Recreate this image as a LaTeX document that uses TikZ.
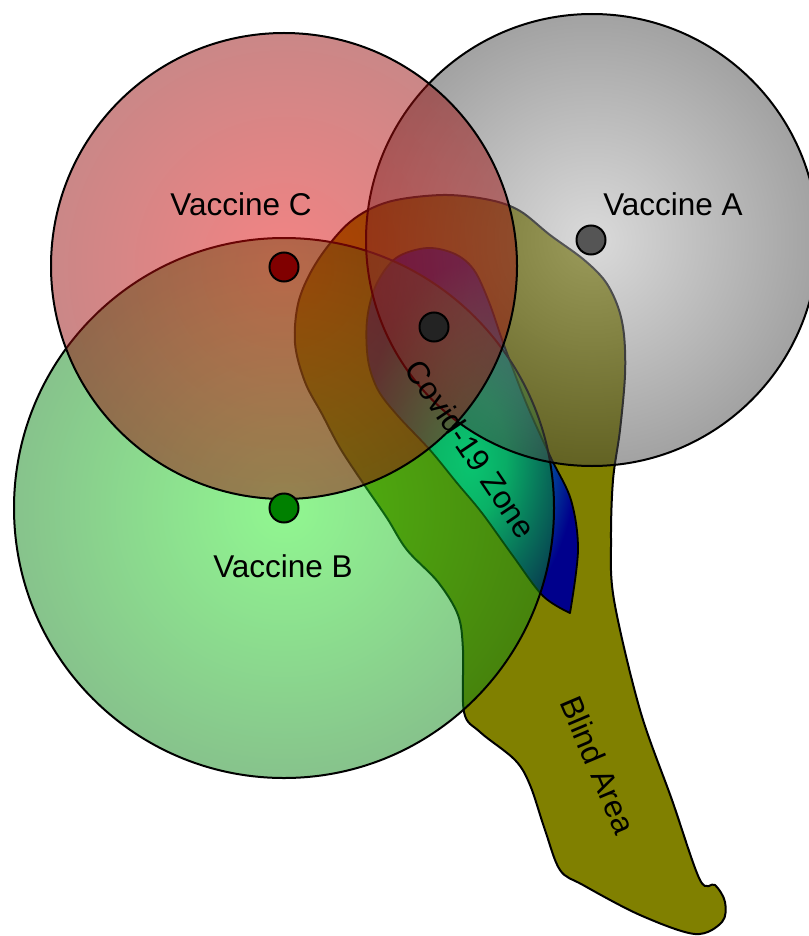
\documentclass[tikz,border=0pt]{standalone}
\usepackage{fontspec}
\setmainfont{Liberation Sans}
\definecolor{Ain}{RGB}{182,182,182}
\definecolor{Aout}{RGB}{70,70,70}
\definecolor{Cin}{RGB}{232,8,8}
\definecolor{Cout}{RGB}{150,15,15}
\definecolor{Bin}{RGB}{35,240,35}
\definecolor{Bout}{RGB}{15,135,25}
\definecolor{blindcol}{RGB}{128,128,0}
\definecolor{dotA}{RGB}{85,85,85}
\definecolor{dotC}{RGB}{128,0,0}
\definecolor{dotB}{RGB}{0,128,0}
\definecolor{dotV}{RGB}{35,35,35}
\pgfdeclareradialshading{covidshade}{\pgfpoint{0bp}{-4bp}}{rgb(0bp)=(0,0.9,0.78); rgb(8bp)=(0,0.76,0.7); rgb(18bp)=(0,0.3,0.6); rgb(25bp)=(0,0,0.55); rgb(50bp)=(0,0,0.55)}
\begin{document}
\begin{tikzpicture}[x=1pt,y=-1pt,
  font=\fontsize{31.5}{36}\selectfont,
  ring/.style={circle, draw=black, line width=2pt, fill opacity=0.5, inner sep=0pt, shading=radial},
  vdot/.style={circle, draw=black, line width=2pt, minimum size=29pt, inner sep=0pt},
  lbl/.style={inner sep=0pt, text=black}]
\useasboundingbox (0,0) rectangle (808,936);

% Blind area
\draw[line width=2pt, fill=blindcol] plot[smooth cycle, tension=0.55] coordinates {
 (443,195) (490,200) (520,211) (550,235) (583,259) (605,281) (618,307) (624,335)
 (625,375) (620,430) (613,480) (611,540) (614,600) (640,710) (672,800) (700,880)
 (715,885) (725,902) (722,922) (695,934) (640,915) (583,885) (560,870)
 (545,830) (530,785) (515,760) (480,732) (464,712) (463,650) (458,615) (438,582)
 (407,550) (387,518) (363,483) (340,448) (322,414) (305,382) (295,343) (299,300)
 (318,260) (350,222) (388,202)};

% Covid-19 zone
\shadedraw[shading=covidshade, line width=1.8pt, line join=round]
 plot[smooth, tension=0.55] coordinates {
 (570,613) (578,550) (571,500) (551,458) (527,405) (504,345) (489,302) (474,270)
 (455,254) (427,248) (396,258) (376,285) (367,320) (368,360) (378,390) (398,416)
 (430,450) (457,483) (482,513) (513,556) (543,596) (570,613)} -- cycle;

% Vaccine circles
\node[ring, minimum size=540pt, inner color=Bin, outer color=Bout] (cB) at (284,508) {};
\node[ring, minimum size=452pt, inner color=Ain, outer color=Aout] (cA) at (592,240) {};
\node[ring, minimum size=466pt, inner color=Cin, outer color=Cout] (cC) at (284,266) {};

% Centre dots
\node[vdot, fill=dotA] (dA) at (591,240) {};
\node[vdot, fill=dotC] (dC) at (284,267) {};
\node[vdot, fill=dotB] (dB) at (284,508) {};
\node[vdot, fill=dotV] (dV) at (434,327) {};

% Labels
\node[lbl] (tA) at (673,204) {Vaccine A};
\node[lbl] (tC) at (241,204) {Vaccine C};
\node[lbl] (tB) at (283,566) {Vaccine B};
\node[lbl, rotate=-56] (tV) at (471,449) {Covid-19 Zone};
\node[lbl, rotate=-67] (tBl) at (598,765) {Blind Area};
\end{tikzpicture}
\end{document}
